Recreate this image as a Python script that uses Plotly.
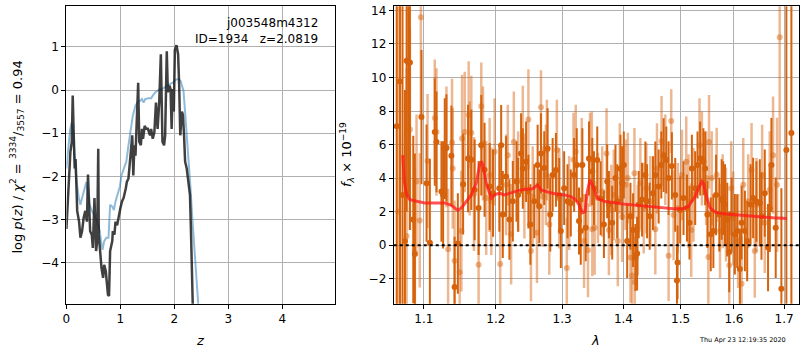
import plotly.graph_objects as go

# ---------------- left panel: p(z) ----------------
z_chi = [0.0,0.037,0.074,0.10,0.117, 0.136,0.154,0.17,0.20,0.235,
         0.26,0.29,0.32,0.35,0.38, 0.40,0.42,0.44,0.47,0.49,
         0.52,0.54,0.55,0.57,0.59, 0.60,0.63,0.65,0.68,0.70,
         0.73,0.75,0.77,0.79,0.81, 0.85,0.86,0.89,0.91,0.94,
         0.97,1.0,1.03,1.06,1.10, 1.12,1.15,1.18,1.22,1.24,
         1.26,1.28,1.30,1.33,1.35, 1.38,1.40,1.42,1.45,1.48,
         1.51,1.55,1.57,1.60,1.63, 1.66,1.69,1.72,1.75,1.78,
         1.81,1.83,1.86,1.88,1.91, 1.93,1.95,1.97,1.99,2.01,
         2.04,2.07,2.09,2.11,2.14, 2.16,2.18,2.20,2.23,2.27,
         2.29,2.31,2.33,2.35,2.40]
logp_chi = [-3.22,-2.12,-1.43,-1.2,-0.13, -1.05,-1.82,-1.6,-2.8,-3.05,
            -3.42,-3.27,-2.96,-2.8,-3.05, -1.96,-2.73,-3.27,-3.35,-3.66,
            -2.5,-3.5,-3.73,-3.5,-1.36, -3.35,-3.81,-4.12,-4.35,-4.05,
            -4.2,-4.43,-4.74,-4.77,-3.73, -3.5,-3.27,-3.35,-3.05,-3.13,
            -2.9,-2.74,-2.58,-2.5,-2.28, -2.13,-2.05,-1.6,-1.05,-1.98,
            -1.28,-1.52,-0.98,0.17,-1.2, -1.28,-0.9,-1.13,-0.83,-0.9,
            -0.9,-1.05,-0.9,-1.13,-0.98, -0.29,-0.9,-0.29,0.83,-1.2,
            -1.28,-1.05,0.9,-0.05,0.1, 0.02,-0.9,0.02,-0.5,0.93,
            1.04,0.83,0.1,-1.05,-0.5, -0.58,-1.05,-1.66,-1.82,-2.28,
            -2.43,-3.35,-4.12,-4.95,-8.0]

z_prior = [0,0.04,0.07,0.10,0.12, 0.15,0.19,0.23,0.26,0.29,
           0.32,0.35,0.37,0.40,0.43, 0.48,0.52,0.57,0.62,0.64,
           0.67,0.70,0.74,0.78,0.81, 0.85,0.88,0.91,0.95,0.99,
           1.02,1.06,1.11,1.15,1.19, 1.23,1.28,1.32,1.37,1.40,
           1.43,1.46,1.52,1.57,1.60, 1.65,1.71,1.77,1.81,1.91,
           1.97,2.03,2.08,2.12,2.17, 2.20,2.23,2.27,2.30,2.33,
           2.36,2.39,2.42,2.44,2.50]
logp_prior = [-1.82,-1.2,-0.9,-0.75,-0.9, -1.52,-2.13,-2.5,-2.66,-2.5,
              -2.36,-2.28,-2.13,-2.43,-2.66, -2.82,-2.9,-3.05,-3.27,-3.5,
              -3.7,-3.5,-3.42,-3.42,-2.66, -2.7,-2.78,-2.58,-2.43,-2.24,
              -1.98,-1.82,-1.66,-1.28,-0.9, -0.6,-0.36,-0.29,-0.25,-0.21,
              -0.29,-0.21,-0.19,-0.19,-0.13, -0.05,0.0,0.02,0.05,0.13,
              0.17,0.24,0.26,0.2,-0.02, -0.52,-1.05,-1.58,-2.28,-2.9,
              -3.5,-4.12,-4.73,-4.95,-6.0]

# ---------------- right panel: spectrum ----------------
lam_dark = [1.0645,1.0687,1.0720,1.0751,1.0773,1.0795,1.0816,1.0860,1.0881,1.0968,
            1.1036,1.1080,1.1146,1.1169,1.1236,1.1259,1.1281,1.1304,1.1372,1.1416,
            1.1461,1.1534,1.1603,1.1649,1.1696,1.1752,1.1790,1.1837,1.1910,1.1959,
            1.2050,1.2077,1.2101,1.2149,1.2198,1.2248,1.2303,1.2327,1.2371,1.2397,
            1.2446,1.2481,1.2511,1.2570,1.2621,1.2646,1.2672,1.2722,1.2774,1.2815,
            1.2852,1.2903,1.2955,1.2980,1.3032,1.3085,1.3137,1.3190,1.3232,1.3268,
            1.3296,1.3322,1.3376,1.3429,1.3483,1.3510,1.3564,1.3619,1.3673,1.3728,
            1.3756,1.3811,1.3866,1.3894,1.3950,1.3978,1.4006,1.4063,1.4119,1.4164,
            1.4204,1.4233,1.4261,1.4318,1.4376,1.4405,1.4451,1.4509,1.4550,1.4608,
            1.4655,1.4696,1.4744,1.4785,1.4844,1.4904,1.4935,1.4946,1.4994,1.5054,
            1.5117,1.5163,1.5207,1.5268,1.5311,1.5360,1.5420,1.5453,1.5495,1.5558,
            1.5607,1.5658,1.5720,1.5764,1.5794,1.5828,1.5871,1.5909,1.5955,1.6018,
            1.6062,1.6116,1.6148,1.6213,1.6258,1.6324,1.6375,1.6441,1.6508,1.6541,
            1.6607,1.6673,1.6707,1.6741,1.6828,1.6944,1.7046,1.7150]
flux_dark = [7.1,9.77,3.0,0.25,11.0,10.9,10.9,1.53,-0.53,7.64,
             3.7,0.15,6.75,6.16,3.2,3.0,5.76,5.8,5.33,-2.5,
             0.1,3.64,5.17,5.1,3.3,2.22,5.96,4.5,3.5,3.1,
             3.4,5.96,1.83,4.09,1.53,2.62,3.8,3.0,5.47,4.58,
             4.98,3.2,1.24,2.62,4.78,2.32,5.47,4.6,5.76,1.83,
             4.19,4.49,3.0,0.84,3.4,2.62,2.52,4.19,4.78,1.44,
             0.84,4.78,1.04,5.17,4.4,3.4,5.08,2.8,1.24,3.8,
             2.42,1.34,4.0,2.62,4.58,3.7,4.78,0.25,1.73,0.9,
             -0.73,-0.5,2.42,2.72,4.19,2.62,1.73,3.1,4.19,3.5,
             4.78,5.37,5.08,4.0,4.73,3.0,-2.1,-1.03,2.1,2.81,
             2.22,1.34,4.58,3.4,4.78,5.17,4.98,4.58,1.83,0.65,
             0.84,3.0,1.83,2.72,2.81,2.42,1.53,-0.4,1.83,0.65,
             0.84,-1.42,1.34,0.84,0.25,2.42,2.81,2.6,2.52,1.73,
             3.1,-0.14,2.2,4.78,1.04,-2.6,5.67,6.69]
err_dark = [14,16,12,9,9,8,10,5,6,4,
            3.5,5,3.2,3.0,3.0,3.2,3.0,3.2,3.0,3.0,
            3.0,3.0,3.2,3.0,3.0,2.8,3.0,2.8,2.6,2.6,
            2.6,2.4,2.6,2.4,2.4,2.4,2.4,2.2,2.4,2.4,
            2.4,2.2,2.4,2.2,2.4,2.2,2.4,2.2,2.4,2.2,
            2.2,2.2,2.2,2.2,2.2,2.2,2.0,2.2,2.2,2.0,
            2.0,2.2,2.0,2.2,2.0,2.2,2.0,2.2,2.0,2.2,
            2.0,2.2,2.0,2.2,2.0,2.2,2.0,2.2,2.0,2.2,
            2.0,2.2,2.0,2.2,2.0,2.2,2.0,2.2,2.0,2.2,
            2.0,2.2,2.0,2.2,2.0,2.2,2.0,2.2,2.0,2.2,
            2.0,2.2,2.0,2.2,2.0,2.2,2.0,2.2,2.0,2.2,
            2.2,2.4,2.2,2.4,2.2,2.4,2.2,2.4,2.2,2.4,
            2.2,2.4,2.2,2.4,2.4,2.4,2.4,2.4,2.6,2.6,
            2.6,2.6,2.6,2.8,3.0,6,20,20]

lam_light = [1.0666,1.0773,1.0816,1.0881,1.0903,1.0945,1.0960,1.1049,1.1146,1.1169,
             1.1304,1.1327,1.1381,1.1390,1.1416,1.1486,1.1510,1.1520,1.1557,1.1612,
             1.1626,1.1649,1.1687,1.1752,1.1790,1.1814,1.1861,1.1910,1.1934,1.1982,
             1.2063,1.2149,1.2174,1.2223,1.2263,1.2327,1.2397,1.2421,1.2481,1.2520,
             1.2546,1.2611,1.2672,1.2697,1.2748,1.2763,1.2800,1.2918,1.2955,1.3074,
             1.3111,1.3180,1.3216,1.3312,1.3349,1.3413,1.3445,1.3475,1.3483,1.3521,
             1.3575,1.3646,1.3717,1.3756,1.3796,1.3838,1.3905,1.3938,1.3978,1.4035,
             1.4074,1.4119,1.4147,1.4187,1.4193,1.4244,1.4289,1.4347,1.4393,1.4463,
             1.4550,1.4579,1.4660,1.4726,1.4785,1.4832,1.4874,1.4952,1.5025,1.5104,
             1.5146,1.5195,1.5237,1.5348,1.5392,1.5471,1.5513,1.5526,1.5576,1.5670,
             1.5733,1.5783,1.5846,1.5909,1.5947,1.5985,1.6081,1.6148,1.6181,1.6278,
             1.6344,1.6408,1.6441,1.6554,1.6607,1.6707,1.6774,1.6855,1.6909]
flux_light = [2.0,0.55,6.9,-0.34,3.8,1.48,13.6,5.02,7.58,6.75,
              5.86,-0.24,6.12,4.58,-0.93,-1.62,0.84,6.36,6.75,7.77,
              5.17,6.71,3.05,-1.16,8.29,6.06,2.81,4.19,2.62,5.57,
              -1.12,3.6,5.37,0.65,6.16,3.8,6.51,3.4,7.5,-0.34,
              2.9,0.74,8.23,2.9,4.2,5.67,1.24,5.67,2.8,-1.36,
              2.52,5.1,5.57,4.78,0.25,-0.3,5.1,5.17,0.95,1.04,
              2.81,3.2,5.47,0.9,2.1,3.0,0.25,4.58,1.7,3.6,
              4.0,-0.73,-1.81,4.29,-2.2,0.9,3.7,2.2,3.4,2.62,
              0.95,4.58,6.2,5.1,-0.63,7.4,1.8,2.2,4.19,4.98,
              2.62,0.9,3.0,5.96,5.17,4.0,-0.7,6.16,4.0,4.2,
              0.84,2.62,1.83,-1.2,3.4,1.6,0.25,-2.3,3.6,2.62,
              4.49,-0.34,2.4,4.19,1.34,3.3,5.37,3.6,12.4]
err_light = [14,10,6,5,4,4,6,4,3.5,3.8,
             3.6,3.6,3.8,3.6,3.6,3.6,3.6,3.8,3.6,3.2,
             3.4,3.4,3.4,3.4,2.6,3.4,3.4,3.4,3.2,3.2,
             3.0,3.0,3.0,3.0,3.0,3.0,3.0,3.0,3.0,3.0,
             3.0,3.0,2.2,3.0,3.0,3.0,3.0,3.0,3.0,3.0,
             2.8,2.8,2.8,2.8,2.8,2.8,2.8,2.8,2.8,2.8,
             2.7,2.7,2.7,2.7,2.7,2.7,2.7,2.7,2.7,2.7,
             2.7,2.7,2.7,2.7,2.7,2.7,2.7,2.7,2.7,2.7,
             2.7,2.7,2.7,2.7,2.7,1.9,2.7,2.7,2.7,2.7,
             2.8,2.8,2.8,2.8,2.8,2.8,2.8,2.8,2.8,2.8,
             2.8,2.8,2.8,2.8,2.8,2.8,2.8,2.8,2.8,2.8,
             2.8,2.8,2.8,3.0,3.0,3.5,3.5,4.0,8.5]

lam_model = [1.0722,1.0744,1.0773,1.0816,1.0903, 1.1012,1.1146,1.1281,1.1372,1.1416,
             1.1461,1.1510,1.1580,1.1649,1.1719, 1.1766,1.179,1.1814,1.1861,1.1934,
             1.1982,1.2050,1.2124,1.2198,1.2271, 1.2371,1.2471,1.2546,1.2621,1.2672,
             1.2774,1.2903,1.3032,1.3137,1.3216, 1.3268,1.3322,1.3365,1.3402,1.3445,
             1.3483,1.3536,1.3564,1.3673,1.3838, 1.3996,1.4289,1.4579,1.4874,1.5054,
             1.5145,1.5207,1.5268,1.5329,1.5392, 1.5420,1.5484,1.5545,1.5638,1.5794,
             1.6116,1.6441,1.6774,1.7058]
flux_model = [5.37,3.8,3.0,2.72,2.62, 2.52,2.52,2.52,2.38,2.22,
              2.07,2.22,2.62,3.0,3.7, 4.78,5.0,4.78,3.7,2.81,
              3.0,3.1,3.0,3.1,3.2, 3.3,3.35,3.37,3.6,3.3,
              3.17,3.05,3.0,2.9,2.7, 2.42,1.93,2.0,3.2,3.9,
              3.6,3.1,2.81,2.62,2.52, 2.46,2.36,2.26,2.18,2.18,
              2.32,2.62,2.9,3.4,3.8, 3.7,2.81,2.22,1.98,1.87,
              1.77,1.71,1.63,1.59]

z_ticks = [0, 1, 2, 3, 4]
logp_ticks = [-4, -3, -2, -1, 0, 1]
lam_ticks = [1.1, 1.2, 1.3, 1.4, 1.5, 1.6, 1.7]
flux_ticks = [-2, 0, 2, 4, 6, 8, 10, 12, 14]

assert len(z_chi) == len(logp_chi)
assert len(z_prior) == len(logp_prior)
assert len(lam_dark) == len(flux_dark) == len(err_dark)
assert len(lam_light) == len(flux_light) == len(err_light)
assert len(lam_model) == len(flux_model)

ORANGE = "rgb(214,98,12)"
ORANGE_L = "rgba(214,98,12,0.45)"
FONT = "DejaVu Sans"

fig = go.Figure()

fig.add_trace(go.Scatter(x=z_prior, y=logp_prior, mode="lines",
                         line=dict(color="rgba(31,119,180,0.5)", width=2),
                         xaxis="x", yaxis="y", showlegend=False))
fig.add_trace(go.Scatter(x=z_chi, y=logp_chi, mode="lines",
                         line=dict(color="rgba(30,30,30,0.85)", width=2.5),
                         xaxis="x", yaxis="y", showlegend=False))

fig.add_trace(go.Scatter(x=lam_light, y=flux_light, mode="markers",
                         marker=dict(color=ORANGE_L, size=6),
                         error_y=dict(type="data", array=err_light, color=ORANGE_L,
                                      thickness=2.5, width=0),
                         xaxis="x2", yaxis="y2", showlegend=False, cliponaxis=True))
fig.add_trace(go.Scatter(x=lam_dark, y=flux_dark, mode="markers",
                         marker=dict(color=ORANGE, size=6),
                         error_y=dict(type="data", array=err_dark, color=ORANGE,
                                      thickness=2, width=0),
                         xaxis="x2", yaxis="y2", showlegend=False, cliponaxis=True))
fig.add_trace(go.Scatter(x=lam_model, y=flux_model, mode="lines",
                         line=dict(color="rgba(255,25,25,0.75)", width=3),
                         xaxis="x2", yaxis="y2", showlegend=False))

fig.add_shape(type="line", xref="x2 domain", yref="y2", x0=0, x1=1, y0=0, y1=0,
              line=dict(color="black", width=2, dash="dot"), layer="above")

axis_common = dict(showgrid=True, gridcolor="#b0b0b0", gridwidth=1,
                   showline=True, linecolor="black", linewidth=1, mirror=True,
                   ticks="outside", ticklen=4, tickcolor="black", zeroline=False,
                   tickfont=dict(family=FONT, size=12, color="black"))

fig.update_layout(
    width=800, height=350,
    margin=dict(l=0, r=0, t=0, b=0),
    paper_bgcolor="white", plot_bgcolor="white",
    font=dict(family=FONT, size=12, color="black"),
    xaxis=dict(domain=[0.0784, 0.416], range=[0, 4.98], tickvals=z_ticks,
               anchor="y", **axis_common),
    yaxis=dict(domain=[0.1334, 0.9906], range=[-4.95, 1.94], tickvals=logp_ticks,
               anchor="x", **axis_common),
    xaxis2=dict(domain=[0.4896, 0.9988], type="log", range=[0.02557, 0.23828],
                tickvals=lam_ticks, ticktext=[f"{v:.1f}" for v in lam_ticks],
                anchor="y2", **axis_common),
    yaxis2=dict(domain=[0.1334, 0.9906], range=[-3.49, 14.25], tickvals=flux_ticks,
                anchor="x2", **axis_common),
)

ann = [
    dict(text="j003548m4312", x=318/800, y=1-20/350, xanchor="right", yanchor="middle",
         font=dict(size=12)),
    dict(text="ID=1934   z=2.0819", x=318/800, y=1-36/350, xanchor="right", yanchor="middle",
         font=dict(size=12)),
    dict(text="<i>z</i>", x=197/800, y=1-340/350, xanchor="center", yanchor="middle",
         font=dict(size=13)),
    dict(text="<i>λ</i>", x=594/800, y=1-340/350, xanchor="center", yanchor="middle",
         font=dict(size=13)),
    dict(text="log <i>p</i>(<i>z</i>) / <i>χ</i><sup>2</sup> = <sup>3334</sup>/<sub>3557</sub> = 0.94",
         x=13/800, y=1-155/350, xanchor="center", yanchor="middle", textangle=-90,
         font=dict(size=13)),
    dict(text="<i>f</i><sub><i>λ</i></sub> × 10<sup>−19</sup>",
         x=344/800, y=1-153/350, xanchor="center", yanchor="middle", textangle=-90,
         font=dict(size=13)),
    dict(text="Thu Apr 23 12:19:35 2020", x=788/800, y=1-340/350, xanchor="right",
         yanchor="middle", font=dict(size=6.5)),
]
for a in ann:
    a.update(xref="paper", yref="paper", showarrow=False)
    fig.add_annotation(**a)

fig.write_html("out.html", config={"displayModeBar": False},
               post_script="document.body.style.margin='0';document.body.style.overflow='hidden';")
